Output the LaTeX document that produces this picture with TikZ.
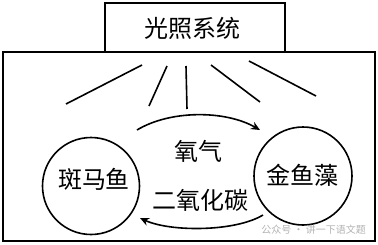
\documentclass[tikz,border=0pt]{standalone}
\usepackage{fontspec}
\newfontfamily\cjk{Noto Sans CJK SC}
\usetikzlibrary{arrows.meta}
\begin{document}
\begin{tikzpicture}[x=1pt,y=-1pt,
  line/.style={line width=1.6pt},
  label/.style={font=\cjk\fontsize{24}{24}\selectfont, inner sep=0pt},
  flow/.style={line width=1.6pt,-{Stealth[length=9pt,width=8pt]}}]
\useasboundingbox (0,0) rectangle (378,244);
% boxes
\node[line, draw, minimum width=180pt, minimum height=49pt, inner sep=0pt] (light) at (195,27.5) {};
\node[label] (lighttext) at (192,28) {光照系统};
\node[line, draw, minimum width=372pt, minimum height=189pt, inner sep=0pt] (tank) at (189,146.5) {};
% rays
\draw[line] (142,65) -- (66,104);
\draw[line] (167,66) -- (149,106);
\draw[line] (186,66) -- (187,109);
\draw[line] (211,65) -- (260,102);
\draw[line] (249,61) -- (316,96);
% circles
\node[line, draw, circle, minimum size=97pt, inner sep=0pt] (fish) at (91,186) {};
\node[label] at (94,179) {斑马鱼};
\node[line, draw, circle, minimum size=98pt, inner sep=0pt] (plant) at (303,176) {};
\node[label] at (302,175) {金鱼藻};
% flows
\coordinate (o2s) at (137,130);
\coordinate (o2e) at (260,130);
\coordinate (co2s) at (263,215);
\coordinate (co2e) at (140,218);
\draw[flow] (o2s) .. controls (170,110) and (225,110) .. (o2e);
\draw[flow] (co2s) .. controls (235,232) and (170,232) .. (co2e);
\node[label] (o2) at (198,151) {氧气};
\node[label] (co2) at (200,200) {二氧化碳};
% watermark
\node[font=\cjk\fontsize{10}{10}\selectfont, text=black!30, anchor=east, inner sep=0pt] (wm) at (366,230) {公众号 · 讲一下语文题};
\end{tikzpicture}
\end{document}
